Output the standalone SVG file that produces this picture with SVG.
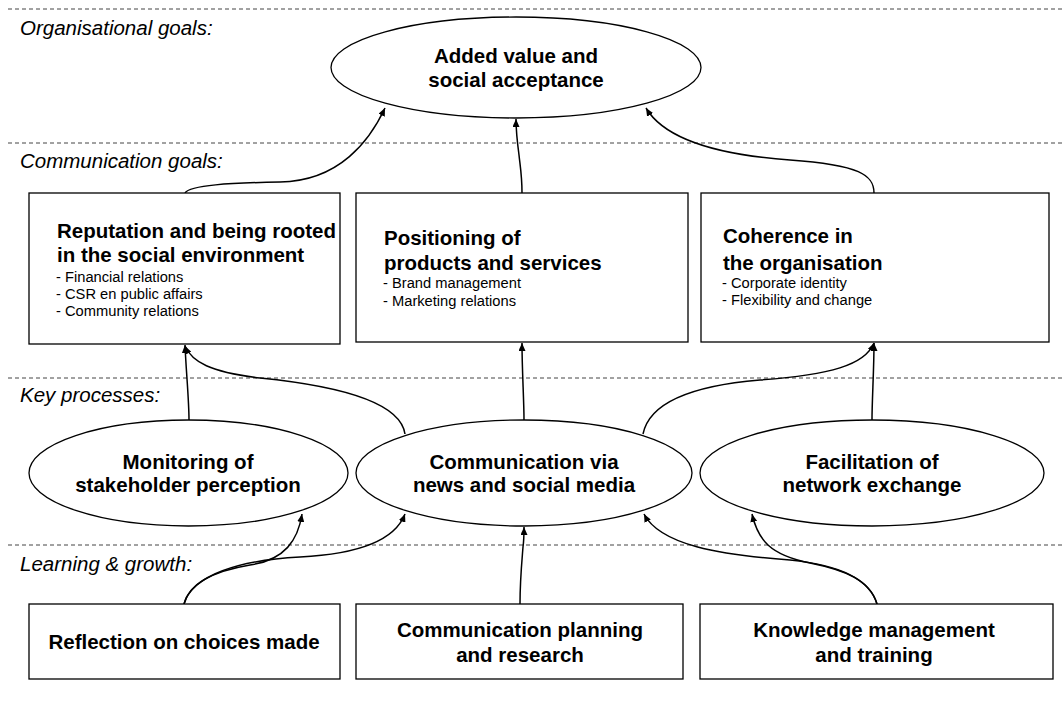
<svg xmlns="http://www.w3.org/2000/svg" width="1063" height="721" viewBox="0 0 1063 721">
<style>
.bg{fill:#fff}
.sep{stroke:#444;stroke-width:1;stroke-dasharray:4,3;fill:none}
.lbl{font-family:"Liberation Sans",Arial,sans-serif;font-style:italic;font-size:20.5px;fill:#000}
.shape{fill:#fff;stroke:#000;stroke-width:1.3}
.t{font-family:"Liberation Sans",Arial,sans-serif;font-weight:bold;font-size:20.5px;fill:#000}
.c{text-anchor:middle}
.s{font-family:"Liberation Sans",Arial,sans-serif;font-size:14.7px;fill:#000}
.con{fill:none;stroke:#000;stroke-width:1.5;marker-end:url(#ah)}
</style>
<defs>
<marker id="ah" markerWidth="8" markerHeight="7" refX="8" refY="3.5" orient="auto" markerUnits="userSpaceOnUse">
<path d="M0,0 L8,3.5 L0,7 z" fill="#000"/>
</marker>
</defs>
<rect class="bg" x="0" y="0" width="1063" height="721"/>
<g id="separators">
<line class="sep" x1="8" y1="9" x2="1063" y2="9"/>
<line class="sep" x1="8" y1="143" x2="1063" y2="143"/>
<line class="sep" x1="8" y1="378" x2="1063" y2="378"/>
<line class="sep" x1="8" y1="545" x2="1063" y2="545"/>
</g>
<g id="labels">
<text class="lbl" x="20" y="35">Organisational goals:</text>
<text class="lbl" x="20" y="168">Communication goals:</text>
<text class="lbl" x="20" y="402">Key processes:</text>
<text class="lbl" x="20" y="571">Learning &amp; growth:</text>
</g>
<g id="connectors">
<path class="con" d="M185,193 C190,185 230,183 280,182 C340,181 370,140 385,108"/>
<path class="con" d="M522,193 C522,175 520,165 519,155 C517,140 516,130 516,119"/>
<path class="con" d="M874,193 C874,175 860,165 790,160 C720,155 665,140 646,108"/>
<path class="con" d="M189,420 C189,400 186,370 185,345"/>
<path class="con" d="M405,434 C400,400 330,385 260,378 C210,372 192,362 185,346"/>
<path class="con" d="M524,420 C524,400 522,370 522,343"/>
<path class="con" d="M643,434 C650,400 700,385 760,380 C830,375 865,365 874,343"/>
<path class="con" d="M872,420 C872,400 874,370 874,343"/>
<path class="con" d="M184,604 C190,580 220,570 250,565 C285,560 298,540 302,514"/>
<path class="con" d="M184,604 C192,575 240,560 300,557 C360,554 395,540 405,514"/>
<path class="con" d="M520,604 C520,580 522,560 523,547 C524,540 524,535 524,527"/>
<path class="con" d="M877,604 C870,580 840,565 790,560 C720,555 660,545 644,514"/>
<path class="con" d="M877,604 C870,580 845,570 810,563 C770,555 758,540 752,514"/>
</g>
<g id="added-value">
<ellipse class="shape" cx="516" cy="67.5" rx="185" ry="50.5"/>
<text class="t c" x="516" y="63">Added value and</text>
<text class="t c" x="516" y="87">social acceptance</text>
</g>
<g id="reputation">
<rect class="shape" x="29" y="193" width="311" height="151"/>
<text class="t" x="57" y="238">Reputation and being rooted</text>
<text class="t" x="57" y="262">in the social environment</text>
<text class="s" x="56" y="282">- Financial relations</text>
<text class="s" x="56" y="299">- CSR en public affairs</text>
<text class="s" x="56" y="316">- Community relations</text>
</g>
<g id="positioning">
<rect class="shape" x="356" y="193" width="332" height="149"/>
<text class="t" x="384" y="245">Positioning of</text>
<text class="t" x="384" y="270">products and services</text>
<text class="s" x="383" y="288">- Brand management</text>
<text class="s" x="383" y="306">- Marketing relations</text>
</g>
<g id="coherence">
<rect class="shape" x="701" y="193" width="348" height="149"/>
<text class="t" x="723" y="243">Coherence in</text>
<text class="t" x="723" y="270">the organisation</text>
<text class="s" x="722" y="288">- Corporate identity</text>
<text class="s" x="722" y="305">- Flexibility and change</text>
</g>
<g id="monitoring">
<ellipse class="shape" cx="188.5" cy="473" rx="159.5" ry="53"/>
<text class="t c" x="188" y="469">Monitoring of</text>
<text class="t c" x="188" y="492">stakeholder perception</text>
</g>
<g id="communication-media">
<ellipse class="shape" cx="524" cy="473" rx="168" ry="53"/>
<text class="t c" x="524" y="469">Communication via</text>
<text class="t c" x="524" y="492">news and social media</text>
</g>
<g id="facilitation">
<ellipse class="shape" cx="872" cy="473" rx="172" ry="53"/>
<text class="t c" x="872" y="469">Facilitation of</text>
<text class="t c" x="872" y="492">network exchange</text>
</g>
<g id="reflection">
<rect class="shape" x="29" y="604" width="311" height="75"/>
<text class="t c" x="184" y="649">Reflection on choices made</text>
</g>
<g id="planning">
<rect class="shape" x="356" y="604" width="327" height="75"/>
<text class="t c" x="520" y="637">Communication planning</text>
<text class="t c" x="520" y="662">and research</text>
</g>
<g id="knowledge">
<rect class="shape" x="700" y="604" width="353" height="75"/>
<text class="t c" x="874" y="637">Knowledge management</text>
<text class="t c" x="874" y="662">and training</text>
</g>
</svg>
